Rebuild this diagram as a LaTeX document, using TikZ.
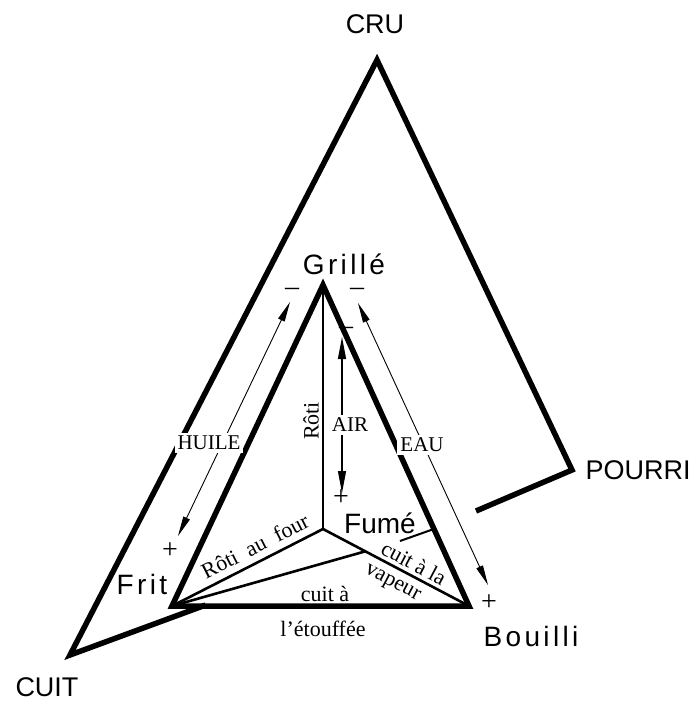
\documentclass[tikz,border=0pt]{standalone}
\usepackage{fontspec}
\setmainfont{Liberation Serif}
\newfontfamily\grotesk{Liberation Sans}
\newfontfamily\groteskwide{Liberation Sans}[LetterSpace=12]
\usetikzlibrary{arrows.meta, calc}

\newcommand{\pts}[1]{\fontsize{#1}{#1}\selectfont}

\tikzset{
  outerline/.style={line width=5.5pt, line join=miter},
  innerline/.style={line width=5.5pt, line join=miter},
  spoke/.style={line width=2.6pt},
  stem/.style={line width=1.5pt},
  twig/.style={line width=2pt},
  flow/.style={line width=0.9pt, {Triangle[length=20pt,width=7pt]}-{Triangle[length=20pt,width=7pt]}},
  airflow/.style={line width=1.2pt, {Triangle[length=22pt,width=8pt]}-{Triangle[length=22pt,width=8pt]}},
  pole/.style={font=\grotesk\pts{27}},
  mode/.style={font=\groteskwide\pts{28}},
  element/.style={font=\pts{21}, fill=white, inner sep=3pt},
  gloss/.style={font=\pts{22}, inner sep=1pt},
  sign/.style={font=\pts{28}, inner sep=0pt}
}

\begin{document}
\begin{tikzpicture}[x=1pt,y=-1pt]
\useasboundingbox (0,0) rectangle (691,702);

% Corners
\coordinate (cru) at (377,60);
\coordinate (cuit) at (70,655);
\coordinate (pourri) at (572,470);
\coordinate (rupture) at (476,511);
\coordinate (grille) at (323,285);
\coordinate (frit) at (172,606);
\coordinate (bouilli) at (469,606);
\coordinate (centre) at (323,529);
\coordinate (fumetick) at (400,541);

% Outer triangle
\draw[outerline] (rupture) -- (pourri) -- (cru) -- (cuit) -- ($(cuit)!0.27!(pourri)$);

% Inner triangle
\draw[innerline] (grille) -- (frit) -- (bouilli) -- cycle;
\draw[stem] (centre) -- (grille);
\draw[spoke] (frit) -- (centre) -- (bouilli);
\draw[spoke] (frit) -- ($(centre)!0.29!(bouilli)$);
\draw[twig] (fumetick) -- ($(grille)!0.76!(bouilli)$);

% Arrows
\coordinate (huileup) at (290,302);
\coordinate (huiledown) at (178,536);
\coordinate (eauup) at (358,303);
\coordinate (eaudown) at (488,585);
\coordinate (airup) at (342,337);
\coordinate (airdown) at (342,493);
\draw[flow] (huiledown) -- (huileup);
\draw[flow] (eaudown) -- (eauup);
\draw[airflow] (airdown) -- (airup);

% Signs
\node[sign] (minushuile) at (292,292) {–};
\node[sign] (minuseau) at (357,292) {–};
\node[sign] (minusair) at (346,331) {–};
\node[sign] (plushuile) at (170,551) {+};
\node[sign] (pluseau) at (489,603) {+};
\node[sign] (plusair) at (341,498) {+};

% Poles
\node[pole] (crulabel) at (375,24) {CRU};
\node[pole, anchor=west] (pourrilabel) at (582,470) {POURRI};
\node[pole] (cuitlabel) at (47,687) {CUIT};
\node[mode] (grillelabel) at (344,264) {Grillé};
\node[mode] (fritlabel) at (142,584) {Frit};
\node[mode] (bouillilabel) at (531,636) {Bouilli};
\node[font=\grotesk\pts{28}] (fumelabel) at (380,523) {Fumé};

% Elements
\node[element] (huile) at (209,443) {HUILE};
\node[element] (eau) at (422,445) {EAU};
\node[element] (air) at (350,425) {AIR};

% Ways of cooking
\node[gloss, rotate=90] (roti) at (311,421) {Rôti};
\node[gloss, rotate=27] (rotifour) at (255,546) {Rôti\ \ au\ \ four};
\node[gloss, rotate=-28] (vapeurhaut) at (414,563) {cuit à la};
\node[gloss, rotate=-28] (vapeurbas) at (392,584) {vapeur};
\node[gloss] (etouffehaut) at (325,594) {cuit\ à};
\node[gloss] (etouffebas) at (323,629) {l'étouffée};
\end{tikzpicture}
\end{document}
